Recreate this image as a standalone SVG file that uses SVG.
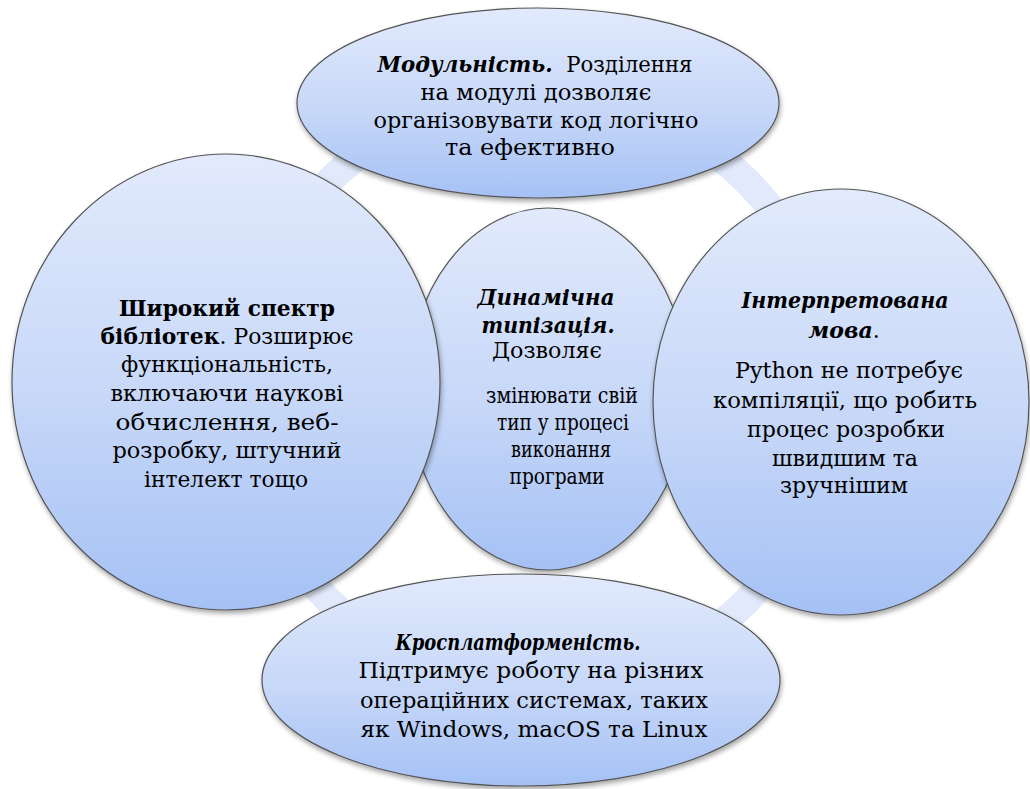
<svg xmlns="http://www.w3.org/2000/svg" width="1030" height="789" viewBox="0 0 1030 789">
<defs>
<linearGradient id="fill" x1="0" y1="0" x2="0" y2="1">
<stop offset="0" stop-color="#e2eafc"/>
<stop offset="0.55" stop-color="#c6d7f8"/>
<stop offset="1" stop-color="#a5c1f5"/>
</linearGradient>
<filter id="shadow" x="-10%" y="-10%" width="120%" height="125%">
<feDropShadow dx="1" dy="3" stdDeviation="2.5" flood-color="#000" flood-opacity="0.35"/>
</filter>
</defs>
<style>
.node { fill: url(#fill); stroke: #555; stroke-width: 1.2; filter: url(#shadow); }
.ring { fill: none; stroke: #e1e9fa; stroke-width: 28; }
text { font-family: "DejaVu Serif", "Liberation Serif", serif; font-size: 22px; fill: #000; text-anchor: middle; }
.bi { font-weight: bold; font-style: italic; }
.b { font-weight: bold; }
</style>
<rect width="1030" height="789" fill="#fff"/>
<g id="connectors">
<circle class="ring" cx="538" cy="391" r="296"/>
</g>
<g id="node-center">
<ellipse class="node" cx="548" cy="389" rx="140" ry="181"/>
<text x="546" y="305" class="bi" textLength="137" lengthAdjust="spacingAndGlyphs">Динамічна</text>
<text x="548" y="333" class="bi" textLength="133" lengthAdjust="spacingAndGlyphs">типізація.</text>
<text x="547" y="358" textLength="110" lengthAdjust="spacingAndGlyphs">Дозволяє</text>
<text x="562" y="403" textLength="152" lengthAdjust="spacingAndGlyphs">змінювати свій</text>
<text x="563" y="430" textLength="132" lengthAdjust="spacingAndGlyphs">тип у процесі</text>
<text x="561" y="457" textLength="100" lengthAdjust="spacingAndGlyphs">виконання</text>
<text x="557" y="484" textLength="95" lengthAdjust="spacingAndGlyphs">програми</text>
</g>
<g id="node-top">
<ellipse class="node" cx="538" cy="103" rx="241" ry="95"/>
<text x="535" y="72" xml:space="preserve" textLength="315" lengthAdjust="spacingAndGlyphs"><tspan class="bi">Модульність.</tspan>  Розділення</text>
<text x="536" y="100" textLength="231" lengthAdjust="spacingAndGlyphs">на модулі дозволяє</text>
<text x="536" y="128" textLength="325" lengthAdjust="spacingAndGlyphs">організовувати код логічно</text>
<text x="530" y="155" textLength="170" lengthAdjust="spacingAndGlyphs">та ефективно</text>
</g>
<g id="node-left">
<ellipse class="node" cx="226" cy="382" rx="214" ry="228"/>
<text x="227" y="316" class="b" textLength="216" lengthAdjust="spacingAndGlyphs">Широкий спектр</text>
<text x="227" y="344" textLength="253" lengthAdjust="spacingAndGlyphs"><tspan class="b">бібліотек</tspan>. Розширює</text>
<text x="227" y="372" textLength="212" lengthAdjust="spacingAndGlyphs">функціональність,</text>
<text x="227" y="401" textLength="233" lengthAdjust="spacingAndGlyphs">включаючи наукові</text>
<text x="227" y="430" textLength="223" lengthAdjust="spacingAndGlyphs">обчислення, веб-</text>
<text x="227" y="458" textLength="229" lengthAdjust="spacingAndGlyphs">розробку, штучний</text>
<text x="226" y="487" textLength="164" lengthAdjust="spacingAndGlyphs">інтелект тощо</text>
</g>
<g id="node-right">
<ellipse class="node" cx="841" cy="402" rx="188" ry="213"/>
<text x="845" y="308" class="bi" textLength="207" lengthAdjust="spacingAndGlyphs">Інтерпретована</text>
<text x="844" y="338"><tspan class="bi">мова</tspan>.</text>
<text x="849" y="378" textLength="228" lengthAdjust="spacingAndGlyphs">Python не потребує</text>
<text x="845" y="408" textLength="264" lengthAdjust="spacingAndGlyphs">компіляції, що робить</text>
<text x="846" y="437" textLength="198" lengthAdjust="spacingAndGlyphs">процес розробки</text>
<text x="845" y="466" textLength="146" lengthAdjust="spacingAndGlyphs">швидшим та</text>
<text x="844" y="493" textLength="128" lengthAdjust="spacingAndGlyphs">зручнішим</text>
</g>
<g id="node-bottom">
<ellipse class="node" cx="521" cy="680" rx="259" ry="106"/>
<text x="518" y="650" class="bi" textLength="245" lengthAdjust="spacingAndGlyphs">Кросплатформеність.</text>
<text x="531" y="678" textLength="345" lengthAdjust="spacingAndGlyphs">Підтримує роботу на різних</text>
<text x="534" y="708" textLength="348" lengthAdjust="spacingAndGlyphs">операційних системах, таких</text>
<text x="534" y="737" textLength="347" lengthAdjust="spacingAndGlyphs">як Windows, macOS та Linux</text>
</g>
</svg>
